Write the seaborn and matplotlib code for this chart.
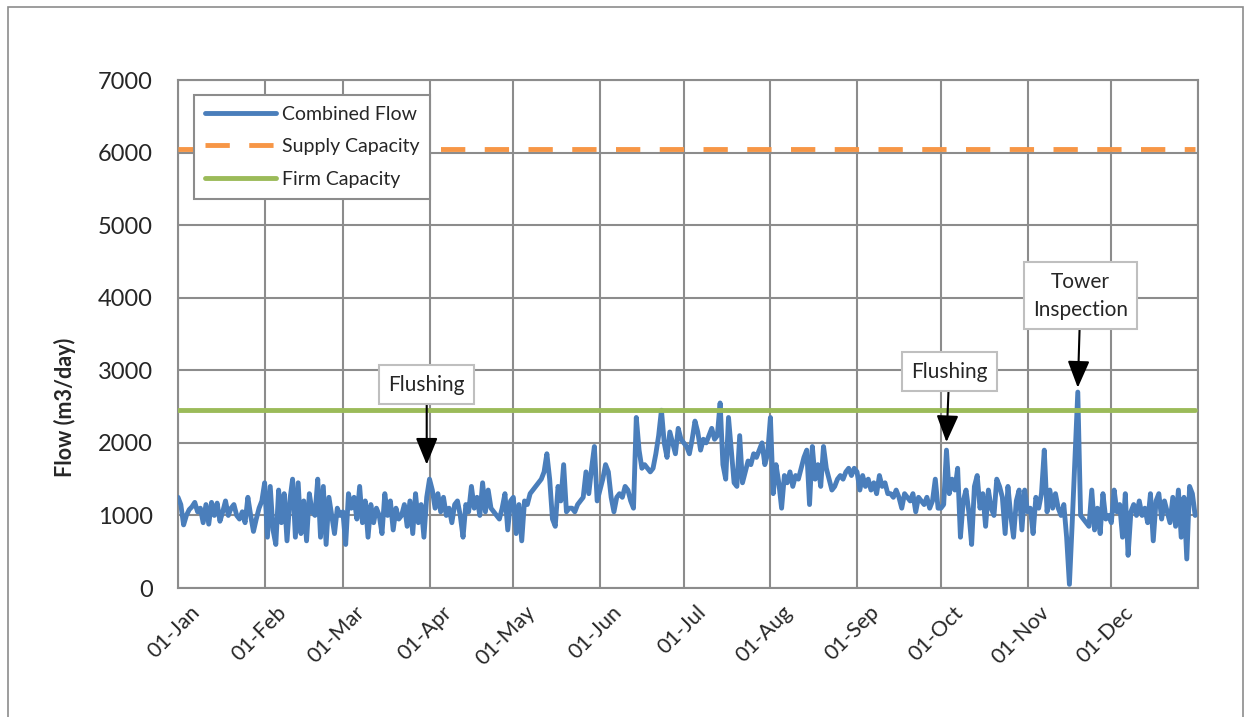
import pandas as pd
import numpy as np
import seaborn as sns
import matplotlib.pyplot as plt
import matplotlib.dates as mdates
import matplotlib.transforms as mtransforms
from matplotlib.patches import Rectangle

# daily combined flow (m3/day)
jan = [1250, 1150, 870, 1000, 1080, 1120, 1180, 1050, 1100, 900, 1150, 880, 1180, 1000, 1170, 920,
       1050, 1200, 1000, 1100, 1150, 1000, 950, 1050, 900, 1250, 1000, 780, 950, 1100, 1200]
feb = [1450, 700, 1400, 800, 600, 1350, 900, 1300, 650, 1200, 1500, 700, 1450, 750, 1200, 650,
       1300, 1050, 1000, 1500, 700, 1400, 600, 1250, 1000, 750, 1100, 1000]
mar = [1050, 600, 1300, 1100, 1250, 950, 1400, 900, 1200, 700, 1150, 900, 1100, 1000, 750, 1300,
       1000, 1200, 800, 1100, 950, 1000, 1150, 850, 1200, 750, 1300, 900, 1150, 700, 1250]
apr = [1500, 1350, 1100, 1300, 1050, 1250, 1000, 1100, 900, 1150, 1200, 1000, 700, 1150, 1050,
       1400, 1100, 1250, 1000, 1450, 1050, 1350, 1100, 1050, 1000, 950, 1100, 1300, 800, 1200]
may = [1250, 750, 1150, 650, 1200, 1150, 1300, 1350, 1400, 1450, 1500, 1600, 1850, 1500, 950, 850,
       1400, 1200, 1700, 1050, 1100, 1100, 1050, 1150, 1200, 1250, 1600, 1300, 1650, 1950, 1200]
jun = [1350, 1500, 1700, 1600, 1250, 1050, 1250, 1300, 1250, 1400, 1350, 1200, 1100, 2350, 1900,
       1650, 1700, 1650, 1600, 1650, 1850, 2100, 2450, 2000, 1800, 2150, 2000, 1850, 2200, 2050]
jul = [2000, 1950, 1850, 2050, 2300, 2150, 1900, 2050, 2000, 2100, 2200, 2050, 2100, 2550, 1700,
       1500, 2350, 1900, 1450, 1400, 2100, 1450, 1600, 1750, 1700, 1850, 1800, 1900, 2000, 1700, 1850]
aug = [2350, 1300, 1700, 1450, 1100, 1550, 1450, 1600, 1400, 1550, 1500, 1650, 1800, 1900, 1150,
       1950, 1500, 1700, 1400, 1950, 1650, 1500, 1350, 1400, 1500, 1550, 1500, 1600, 1650, 1550, 1650]
sep = [1600, 1350, 1550, 1400, 1500, 1350, 1450, 1300, 1550, 1400, 1450, 1300, 1300, 1250, 1350,
       1250, 1100, 1300, 1250, 1200, 1300, 1050, 1250, 1200, 1150, 1250, 1100, 1200, 1500, 1100]
oct_ = [1100, 1150, 1900, 1300, 1500, 1350, 1650, 700, 1200, 1350, 1050, 600, 1400, 1550, 1100,
        1300, 850, 1350, 1100, 1000, 1500, 1400, 1250, 750, 1400, 1000, 700, 1200, 1350, 800, 1350]
nov = [1050, 1100, 750, 1250, 1100, 1300, 1900, 1050, 1350, 1100, 1300, 1100, 1000, 1150, 700,
       50, 900, 1800, 2700, 1000, 950, 900, 850, 1350, 800, 1100, 750, 1300, 950, 1000]
dec = [900, 1350, 1050, 1150, 700, 1300, 450, 1050, 1150, 1000, 1200, 1000, 1100, 900, 1300, 650,
       1200, 1300, 950, 1200, 1050, 900, 1250, 850, 1350, 700, 1250, 400, 1400, 1300, 1000]

supply_capacity = 6050
firm_capacity = 2450

month_labels = ['01-Jan', '01-Feb', '01-Mar', '01-Apr', '01-May', '01-Jun',
                '01-Jul', '01-Aug', '01-Sep', '01-Oct', '01-Nov', '01-Dec']

flow = jan + feb + mar + apr + may + jun + jul + aug + sep + oct_ + nov + dec
dates = pd.date_range('2015-01-01', periods=len(flow), freq='D')
df = pd.DataFrame({'date': dates, 'flow': flow,
                   'supply': supply_capacity, 'firm': firm_capacity})

sns.set_style('white')
plt.rcParams['font.family'] = ['Lato', 'DejaVu Sans']

fig = plt.figure(figsize=(12.51, 7.17), dpi=100)
ax = fig.add_axes([0.1423, 0.1799, 0.8153, 0.7085])

sns.lineplot(data=df, x='date', y='flow', ax=ax, color='#4a7ebb', lw=3.5,
             label='Combined Flow', zorder=3)
sns.lineplot(data=df, x='date', y='supply', ax=ax, color='#f79646', lw=3.5,
             label='Supply Capacity', zorder=3, dashes=False)
ax.lines[-1].set_dashes([5, 4])
sns.lineplot(data=df, x='date', y='firm', ax=ax, color='#9bbb59', lw=3.5,
             label='Firm Capacity', zorder=3)

ax.set_xlim(pd.Timestamp('2015-01-01'), pd.Timestamp('2016-01-01'))
ax.set_ylim(0, 7000)
ax.set_yticks(range(0, 7001, 1000))
ax.xaxis.set_major_locator(mdates.MonthLocator())
ax.tick_params(axis='y', labelsize=17, length=0, pad=18)
ax.tick_params(axis='x', length=0, pad=6)
ax.set_xticklabels(month_labels, rotation=45, ha='right', rotation_mode='anchor', fontsize=15.5)
# Excel places the rotated labels a little right of the gridline
shift = mtransforms.ScaledTranslation(12 / 100, -6 / 100, fig.dpi_scale_trans)
for lab in ax.get_xticklabels():
    lab.set_transform(lab.get_transform() + shift)
ax.grid(True, color='#8c8c8c', lw=1.5)
ax.set_axisbelow(True)
for s in ax.spines.values():
    s.set_color('#8c8c8c')
    s.set_linewidth(1.5)

ax.set_xlabel('')
ax.set_ylabel('Flow (m3/day)', fontsize=15.5, fontweight='bold')
ax.yaxis.set_label_coords(-0.100, 0.355)

leg = ax.legend(loc='upper left', bbox_to_anchor=(0.0157, 0.9705), fontsize=14, fancybox=False,
                framealpha=1, edgecolor='#8c8c8c', handlelength=3.65, handletextpad=0.3,
                labelspacing=0.8, borderpad=0.55, borderaxespad=0)
leg.get_frame().set_linewidth(1.5)

box = dict(boxstyle='square,pad=0.45', fc='white', ec='#bfbfbf', lw=1.5)
arrow = dict(arrowstyle='-|>,head_width=0.45,head_length=1.1', color='black', lw=1.5,
             shrinkA=0, shrinkB=0)
ax.annotate('Flushing', xy=(pd.Timestamp('2015-03-31'), 1700),
            xytext=(pd.Timestamp('2015-03-31'), 2800), ha='center', va='center',
            fontsize=15, bbox=box, arrowprops=arrow, zorder=5)
ax.annotate('Flushing', xy=(pd.Timestamp('2015-10-03'), 2010),
            xytext=(pd.Timestamp('2015-10-04'), 2980), ha='center', va='center',
            fontsize=15, bbox=box, arrowprops=arrow, zorder=5)
ax.annotate('Tower\nInspection', xy=(pd.Timestamp('2015-11-19'), 2760),
            xytext=(pd.Timestamp('2015-11-20'), 4030), ha='center', va='center',
            fontsize=15, bbox=box, arrowprops=arrow, zorder=5, linespacing=1.5)

fig.patches.append(Rectangle((0.006, -0.02), 0.988, 1.01, transform=fig.transFigure,
                             fill=False, ec='#8c8c8c', lw=1.2))

fig.savefig('out.png', dpi=100)
